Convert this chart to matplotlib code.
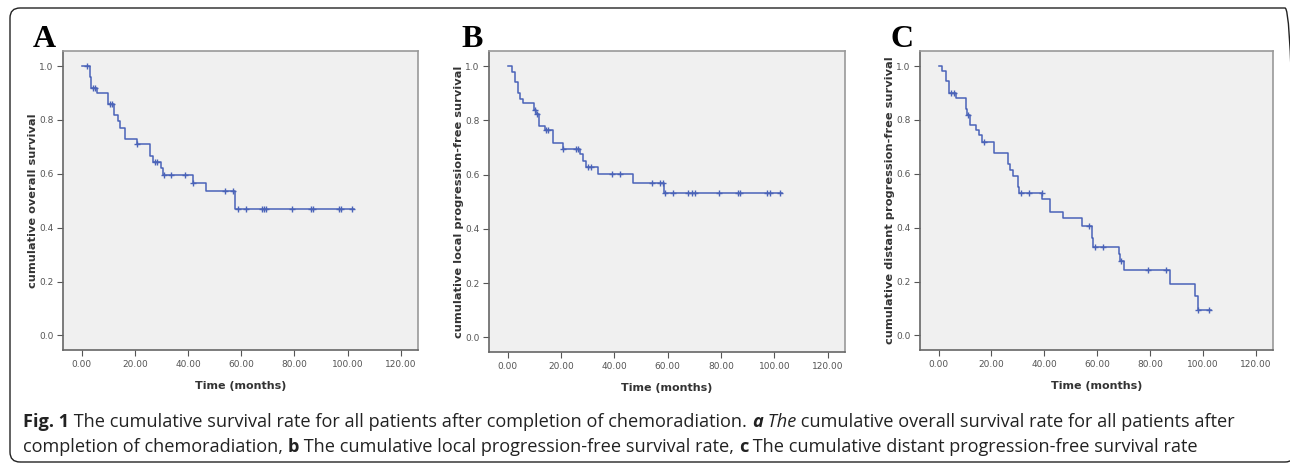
import numpy as np
import matplotlib
matplotlib.use('Agg')
import matplotlib.pyplot as plt
from matplotlib.patches import FancyBboxPatch
from matplotlib.transforms import IdentityTransform

# Panel A: overall survival
times_A = [0, 3.0, 3.6, 5.9, 10.0, 12.0, 13.7, 14.6, 16.5, 21.0, 25.8, 27.0, 29.7, 30.6, 41.9, 46.9, 57.8]
surv_A = [1.0, 0.96, 0.92, 0.90, 0.86, 0.82, 0.795, 0.77, 0.73, 0.71, 0.665, 0.645, 0.62, 0.595, 0.565, 0.535, 0.47]
censor_A = [2.0, 4.3, 5.1, 10.5, 11.4, 21.0, 27.5, 28.5, 30.8, 33.7, 39.0, 42.0, 53.8, 56.9, 58.7, 61.7,
            67.8, 68.7, 69.5, 79.2, 86.1, 87.0, 96.8, 97.7, 101.8]
end_A = 102.5

# Panel B: local progression-free survival
times_B = [0, 1.5, 2.6, 3.7, 4.8, 5.8, 9.8, 10.8, 11.8, 13.9, 17.0, 20.8, 27.1, 28.1, 29.2, 33.7, 46.9, 58.8]
surv_B = [1.0, 0.98, 0.94, 0.90, 0.88, 0.864, 0.84, 0.822, 0.78, 0.763, 0.717, 0.696, 0.675, 0.65, 0.629,
          0.602, 0.57, 0.531]
censor_B = [10.2, 11.0, 14.5, 15.2, 20.8, 25.8, 26.4, 30.2, 31.2, 39.0, 42.1, 54.0, 57.2, 58.1, 59.0, 61.9,
            67.8, 69.1, 70.1, 79.1, 86.3, 87.3, 97.3, 98.3, 102.1]
end_B = 103.0

# Panel C: distant progression-free survival
times_C = [0, 1.5, 2.8, 3.8, 6.6, 10.3, 10.7, 12.0, 14.1, 15.4, 16.4, 21.1, 26.1, 27.0, 28.0, 29.9, 30.5,
           39.3, 42.2, 47.1, 54.2, 58.0, 58.5, 68.1, 68.6, 70.2, 87.6, 97.1, 98.2]
surv_C = [1.0, 0.98, 0.943, 0.90, 0.883, 0.842, 0.82, 0.78, 0.762, 0.744, 0.72, 0.676, 0.636, 0.614, 0.593,
          0.552, 0.53, 0.507, 0.46, 0.435, 0.408, 0.36, 0.33, 0.303, 0.275, 0.242, 0.192, 0.148, 0.096]
censor_C = [4.7, 5.7, 11.0, 17.3, 31.1, 34.3, 39.0, 57.0, 59.2, 62.3, 69.2, 79.3, 86.2, 98.2, 102.4]
end_C = 103.0

letters = ['A', 'B', 'C']
ylabels = ['cumulative overall survival',
           'cumulative local progression-free survival',
           'cumulative distant progression-free survival']
xticks = [0, 20, 40, 60, 80, 100, 120]
xticklabels = ['0.00', '20.00', '40.00', '60.00', '80.00', '100.00', '120.00']
yticks = [0.0, 0.2, 0.4, 0.6, 0.8, 1.0]

W, H = 1290, 465
fig = plt.figure(figsize=(W / 100, H / 100), dpi=100)
fig.patch.set_facecolor('white')

# outer rounded frame (pixel coords, origin bottom-left)
frame = FancyBboxPatch((10, 3), 1285, H - 11, boxstyle='round,pad=0,rounding_size=10',
                       transform=IdentityTransform(), facecolor='none', edgecolor='#222222',
                       linewidth=1.0, figure=fig)
fig.patches.append(frame)

# axes boxes in pixels: left, right, top, bottom
boxes = [(63, 418, 51, 350), (489, 845, 51, 352), (920, 1273, 51, 350)]
letter_x = [33, 461, 890]
line_color = '#4a63b8'

data = [(times_A, surv_A, censor_A, end_A),
        (times_B, surv_B, censor_B, end_B),
        (times_C, surv_C, censor_C, end_C)]

for i, (l, r, t, b) in enumerate(boxes):
    ax = fig.add_axes([l / W, 1 - b / H, (r - l) / W, (b - t) / H])
    ax.set_facecolor('#f0f0f0')
    times, surv, cens, end = data[i]
    ax.step(times + [end], surv + [surv[-1]], where='post', color=line_color, lw=1.1)
    idx = np.searchsorted(times, cens, side='right') - 1
    cy = np.array(surv)[idx]
    ax.plot(cens, cy, linestyle='none', marker='+', color=line_color, ms=5, mew=1.0)

    ax.set_xlim(-7, 126.5)
    ax.set_ylim(-0.054, 1.056)
    ax.set_xticks(xticks)
    ax.set_xticklabels(xticklabels)
    ax.set_yticks(yticks)
    ax.set_yticklabels([f'{v:.1f}' for v in yticks])
    ax.tick_params(direction='out', length=4, width=0.8, colors='#555555', labelsize=6.5, pad=3)
    for lab in ax.get_xticklabels() + ax.get_yticklabels():
        lab.set_color('#555555')
    for side in ['left', 'bottom']:
        ax.spines[side].set_color('#666666')
        ax.spines[side].set_linewidth(1.2)
    for side in ['top', 'right']:
        ax.spines[side].set_color('#999999')
        ax.spines[side].set_linewidth(1.2)
    ax.set_xlabel('Time (months)', fontsize=8, fontweight='bold', color='#333333', labelpad=9)
    ax.set_ylabel(ylabels[i], fontsize=8.2, fontweight='bold', color='#333333', labelpad=1)

    fig.text(letter_x[i] / W, 1 - 47 / H, letters[i], fontsize=23, fontweight='bold',
             family='Liberation Serif', ha='left', va='baseline')

# caption with mixed styles
renderer = fig.canvas.get_renderer()
cap_size = 13.1
cap_font = 'Open Sans'
line1 = [('Fig. 1', 'bold', 'normal'),
         (' The cumulative survival rate for all patients after completion of chemoradiation. ', 'normal', 'normal'),
         ('a', 'bold', 'italic'),
         (' The', 'normal', 'italic'),
         (' cumulative overall survival rate for all patients after', 'normal', 'normal')]
line2 = [('completion of chemoradiation, ', 'normal', 'normal'),
         ('b', 'bold', 'normal'),
         (' The cumulative local progression-free survival rate, ', 'normal', 'normal'),
         ('c', 'bold', 'normal'),
         (' The cumulative distant progression-free survival rate', 'normal', 'normal')]

for parts, ybase in [(line1, 427), (line2, 452)]:
    x = 23
    for txt, wt, st in parts:
        tt = fig.text(x / W, 1 - ybase / H, txt, fontsize=cap_size, fontweight=wt, fontstyle=st,
                      family=cap_font, color='#222222', ha='left', va='baseline')
        bb = tt.get_window_extent(renderer=renderer)
        x += bb.width

fig.savefig('out.png', dpi=100)
